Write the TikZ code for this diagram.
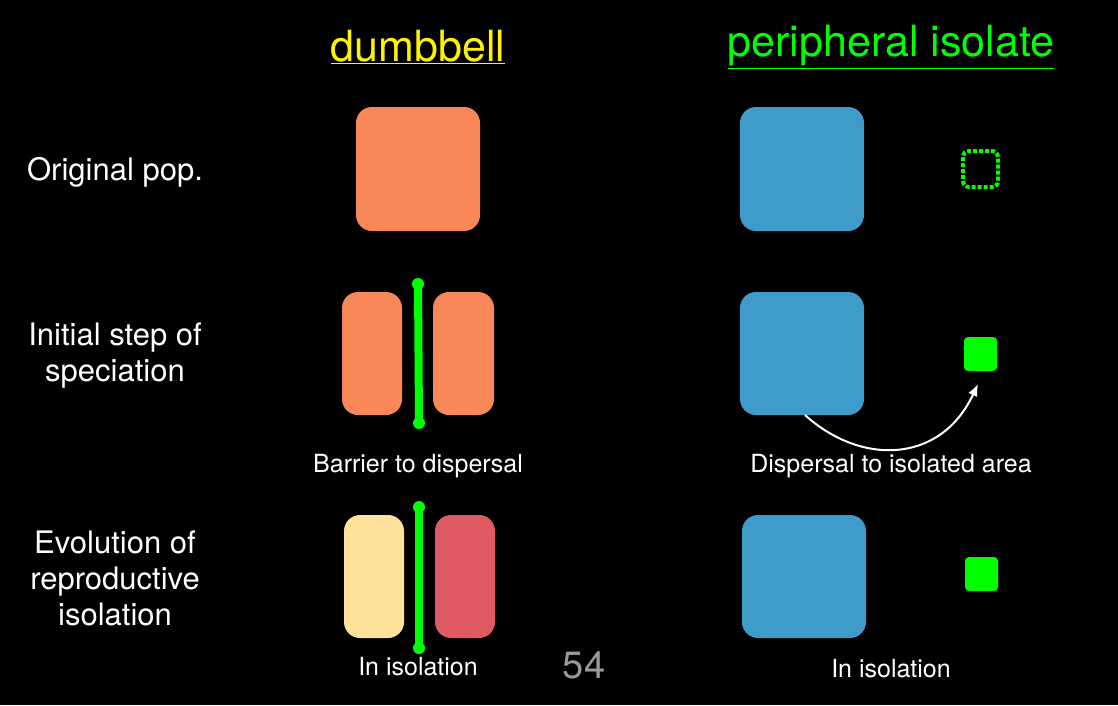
\documentclass[tikz,border=0pt]{standalone}
\usepackage{fontspec}
\setmainfont{TeX Gyre Heros}
\usetikzlibrary{arrows.meta}
\begin{document}
\begin{tikzpicture}[x=1pt,y=-1pt,
  blob/.style={rounded corners=16pt},
  lab/.style={text=white,font=\fontsize{31}{36}\selectfont,align=center},
  small/.style={text=white,font=\fontsize{25}{28}\selectfont},
  bar/.style={line width=8pt,line cap=round}]
\definecolor{org}{HTML}{F88858}\definecolor{blu}{HTML}{3E9BCA}
\definecolor{yel}{HTML}{FFE29A}\definecolor{redd}{HTML}{E05A64}
\definecolor{grn}{HTML}{00FF00}
\fill[black] (0,0) rectangle (1118,705);
\useasboundingbox (0,0) rectangle (1118,705);
\node[text=yellow,font=\fontsize{43}{46}\selectfont] (t1) at (418,47) {\underline{dumbbell}};
\node[text=grn,font=\fontsize{43}{46}\selectfont] (t2) at (891,47) {\underline{peripheral isolate}};
\node[lab] (l1) at (115,172) {Original pop.};
\node[lab] (l2) at (115,356) {Initial step of\\speciation};
\node[lab] (l3) at (115,578) {Evolution of\\reproductive\\isolation};
\fill[org,blob] (356,107) rectangle (480,231);
\fill[org,blob] (342,292) rectangle (402,415);
\fill[org,blob] (433,292) rectangle (494,415);
\draw[bar,grn] (418,284) -- (419,423);
\fill[grn] (418,284) circle (6) (419,423) circle (6);
\fill[yel,blob] (344,515) rectangle (404,638);
\fill[redd,blob] (435,515) rectangle (495,638);
\draw[bar,grn] (419,507) -- (419,648);
\fill[grn] (419,507) circle (6) (419,648) circle (6);
\fill[blu,blob] (740,107) rectangle (864,231);
\fill[blu,blob] (740,292) rectangle (864,415);
\fill[blu,blob] (742,515) rectangle (866,638);
\draw[grn,line width=4pt,dotted,rounded corners=6pt] (963,151) rectangle (998,187);
\fill[grn,rounded corners=4pt] (964,337) rectangle (997,371);
\fill[grn,rounded corners=4pt] (965,557) rectangle (998,591);
\coordinate (a) at (805,415);
\coordinate (b) at (978,384);
\draw[white,line width=2pt,-{Latex[length=12pt,width=10pt]}] (a) .. controls (860,465) and (940,465) .. (b);
\node[small] (s1) at (418,466) {Barrier to dispersal};
\node[small] (s2) at (891,466) {Dispersal to isolated area};
\node[small] (s3) at (418,667) {In isolation};
\node[small] (s4) at (891,669) {In isolation};
\node[text=gray!80,font=\fontsize{38}{40}\selectfont] (p) at (584,665) {54};
\end{tikzpicture}
\end{document}
